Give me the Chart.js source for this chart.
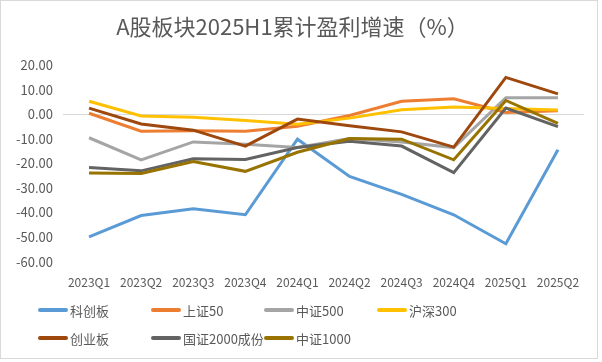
<!DOCTYPE html>
<html>
<head>
<meta charset="utf-8">
<script src="https://cdn.jsdelivr.net/npm/chart.js@4/dist/chart.umd.min.js"></script>
<style>
    html, body { margin: 0; padding: 0; background: #fff; }
    #frame {
        position: relative; width: 596px; height: 357px;
        border: 1px solid #d9d9d9; background: #fff; overflow: hidden;
        font-family: "Noto Sans CJK SC", "Noto Sans", sans-serif;
    }
    #box { position: absolute; left: 0; top: 0; width: 596px; height: 308px; }
    #legend {
        position: absolute; left: 37px; top: 295px; width: 560px;
        display: grid; grid-template-columns: repeat(4, 113px); grid-auto-rows: 28px;
        font-size: 13px; color: #595959;
    }
    .item { display: flex; align-items: center; white-space: nowrap; }
    .swatch { width: 30px; height: 4px; border-radius: 2px; margin-right: 2px; flex: none; }
</style>
</head>
<body>
<div id="frame">
    <div id="box"><canvas id="grafico"></canvas></div>
    <div id="legend"></div>
</div>
<script>
// categorias e séries
const trimestres = ["2023Q1", "2023Q2", "2023Q3", "2023Q4", "2024Q1", "2024Q2", "2024Q3", "2024Q4", "2025Q1", "2025Q2"];

const kechuangban = [-49.9, -41.2, -38.5, -40.9, -10.1, -25.3, -32.6, -40.9, -52.7, -14.4];
const shangzheng50 = [0.5, -6.8, -6.6, -6.8, -4.8, -0.4, 5.4, 6.4, 0.8, 1.5];
const zhongzheng500 = [-9.5, -18.5, -11.2, -12.2, -13.5, -9.8, -11.2, -13.5, 6.8, 6.8];
const hushen300 = [5.4, -0.6, -1.1, -2.5, -4.0, -1.5, 1.9, 3.0, 2.4, 1.8];
const chuangyeban = [2.6, -3.9, -6.4, -12.9, -1.9, -4.6, -7.1, -13.3, 15.1, 8.4];
const guozheng2000 = [-21.6, -23.0, -18.1, -18.4, -13.5, -10.9, -12.9, -23.7, 2.6, -5.0];
const zhongzheng1000 = [-23.9, -24.1, -19.2, -23.2, -15.4, -9.8, -10.1, -18.5, 5.7, -3.6];

const nomes = ["科创板", "上证50", "中证500", "沪深300", "创业板", "国证2000成份", "中证1000"];
const cores = ["#5B9BD5", "#ED7D31", "#A5A5A5", "#FFC000", "#9E480E", "#636363", "#997300"];
const series = [kechuangban, shangzheng50, zhongzheng500, hushen300, chuangyeban, guozheng2000, zhongzheng1000];

const yTicks = [20, 10, 0, -10, -20, -30, -40, -50, -60];

const fonte = '"Noto Sans CJK SC", "Noto Sans", sans-serif';

const datasets = series.map((dados, i) => ({
    label: nomes[i],
    data: dados,
    borderColor: cores[i],
    backgroundColor: cores[i],
    borderWidth: 3,
    pointRadius: 0,
    tension: 0,
    fill: false,
    order: series.length - i  // última série por cima, como no Excel
}));

const ctx = document.getElementById("grafico").getContext("2d");
new Chart(ctx, {
    type: "line",
    data: { labels: trimestres, datasets: datasets },
    options: {
        responsive: true,
        maintainAspectRatio: false,
        animation: false,
        layout: { padding: { left: 0, right: 13, top: 0, bottom: 13 } },
        plugins: {
            legend: { display: false },
            tooltip: { enabled: false },
            title: {
                display: true,
                text: "A股板块2025H1累计盈利增速（%）",
                color: "#595959",
                font: { family: fonte, size: 22, weight: "normal" },
                padding: { top: 12, bottom: 26 }
            }
        },
        scales: {
            x: {
                offset: true,
                grid: { display: false },
                border: { display: false },
                ticks: {
                    color: "#595959",
                    font: { family: fonte, size: 12 },
                    padding: 6,
                    maxRotation: 0,
                    autoSkip: false
                }
            },
            y: {
                min: -60,
                max: 20,
                afterBuildTicks: scale => { scale.ticks = yTicks.map(v => ({ value: v })); },
                afterFit: scale => { scale.width = 62; },
                grid: {
                    drawTicks: false,
                    color: c => (c.tick && c.tick.value === 0 ? "#d9d9d9" : "rgba(0,0,0,0)"),
                    lineWidth: 1
                },
                border: { display: false },
                ticks: {
                    color: "#595959",
                    font: { family: fonte, size: 13 },
                    padding: 10,
                    callback: v => Number(v).toFixed(2)
                }
            }
        }
    }
});

// legenda em grade de 4 colunas
const legenda = document.getElementById("legend");
nomes.forEach((nome, i) => {
    const item = document.createElement("div");
    item.className = "item";
    item.innerHTML = `<span class="swatch" style="background:${cores[i]}"></span><span>${nome}</span>`;
    legenda.appendChild(item);
});
</script>
</body>
</html>
